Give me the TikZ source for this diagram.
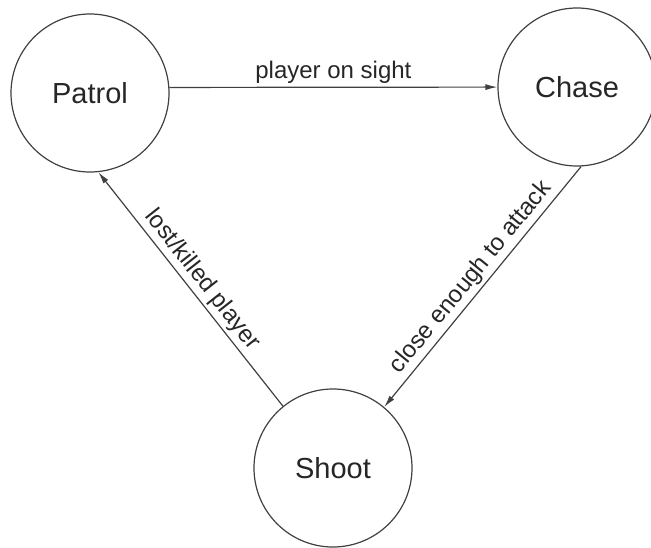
\documentclass[tikz,border=0pt]{standalone}
\usepackage{fontspec}
\setmainfont{Liberation Sans}
\usetikzlibrary{arrows.meta}

\begin{document}
\begin{tikzpicture}[x=1pt,y=-1pt,
    state/.style={circle,draw=black!75,line width=1.2pt,minimum size=158pt,
      inner sep=0pt,text=black!85,font=\fontsize{29}{34}\selectfont},
    trans/.style={font=\fontsize{24}{28}\selectfont,text=black!85,inner sep=3pt}]
  \useasboundingbox (0,0) rectangle (651,548);
    \node[state] (Pat) at (90,93) {Patrol};
    \node[state] (Cha) at (577,87) {Chase};
    \node[state] (Sho) at (333,468) {Shoot};
    \path[->,black!75,line width=1.2pt,>={Latex[length=12pt,width=6pt]}]
      (Pat.4) edge node[trans,above]{player on sight} (Cha)
      (Cha.-87) edge node[trans,sloped,above]{close enough to attack} (Sho.50)
      (Sho.129) edge node[trans,sloped,above]{lost/killed player} (Pat.-84);
  \end{tikzpicture}
\end{document}
